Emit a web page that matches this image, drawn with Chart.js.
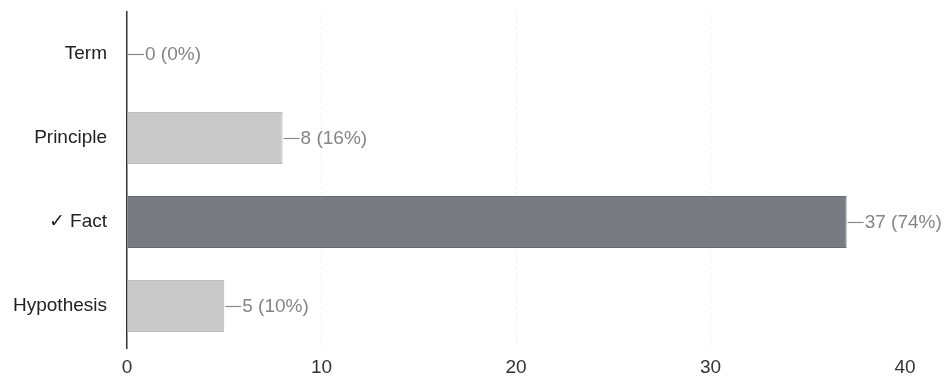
<!DOCTYPE html>
<html>
<head>
<meta charset="utf-8">
<script src="https://cdn.jsdelivr.net/npm/chart.js@4"></script>
<style>
  html, body { margin: 0; padding: 0; background: #fff; }
  #wrap { width: 947px; height: 379px; }
</style>
</head>
<body>
<div id="wrap"><canvas id="answerChart"></canvas></div>
<script>
// answer options and how many picked each
const categories = ['Term', 'Principle', '\u2713 Fact', 'Hypothesis'];
const counts = [0, 8, 37, 5];
const percents = [0, 16, 74, 10];
const tickValues = [0, 10, 20, 30, 40];

const barColors = ['#c9c9c9', '#c9c9c9', '#7a7a82', '#c9c9c9'];
const fontFamily = '"Liberation Sans", Arial, sans-serif';

// draws the "—8 (16%)" labels at the end of each bar
const valueLabels = {
    id: 'valueLabels',
    afterDatasetsDraw(chart) {
        const ctx = chart.ctx;
        const meta = chart.getDatasetMeta(0);
        ctx.save();
        ctx.font = '19px ' + fontFamily;
        ctx.fillStyle = '#858585';
        ctx.strokeStyle = '#8a8a8a';
        ctx.lineWidth = 1.2;
        ctx.textBaseline = 'middle';
        meta.data.forEach((bar, i) => {
            const x = bar.x;
            const y = Math.round(bar.y) + 0.5;
            ctx.beginPath();
            ctx.moveTo(x + 1, y);
            ctx.lineTo(x + 17, y);
            ctx.stroke();
            ctx.fillText(counts[i] + ' (' + percents[i] + '%)', x + 18, bar.y + 1);
        });
        ctx.restore();
    }
};

const noPad = (scale) => {
    scale.paddingTop = 0;
    scale.paddingBottom = 0;
    scale.paddingLeft = 0;
    scale.paddingRight = 0;
};

const ctx = document.getElementById('answerChart').getContext('2d');
const answerChart = new Chart(ctx, {
    type: 'bar',
    data: {
        labels: categories,
        datasets: [{
            data: counts,
            backgroundColor: barColors,
            borderColor: barColors.map(c => c === '#7a7a82' ? '#6a6a72' : '#bdbdbd'),
            borderWidth: 1,
            borderSkipped: 'left',
            barPercentage: 0.62,
            categoryPercentage: 1
        }]
    },
    plugins: [valueLabels],
    options: {
        indexAxis: 'y',
        responsive: true,
        maintainAspectRatio: false,
        animation: false,
        layout: { padding: { top: 12, right: 42, bottom: 0, left: 0 } },
        plugins: {
            legend: { display: false },
            tooltip: { enabled: false }
        },
        scales: {
            x: {
                min: 0,
                max: 40,
                afterBuildTicks: (scale) => {
                    scale.ticks = tickValues.map(v => ({ value: v }));
                },
                afterFit: (scale) => { scale.height = 31; noPad(scale); },
                grid: {
                    color: (c) => (c.tick && c.tick.value > 0 && c.tick.value < 40) ? '#ececec' : 'rgba(0,0,0,0)',
                    drawTicks: false
                },
                border: { display: false, dash: [2, 3] },
                ticks: {
                    color: '#333',
                    padding: 8,
                    font: { family: fontFamily, size: 19 }
                }
            },
            y: {
                afterFit: (scale) => { scale.width = 127; noPad(scale); },
                grid: { display: false, drawTicks: false },
                border: { display: true, color: '#333', width: 1.5 },
                ticks: {
                    color: '#222',
                    padding: 20,
                    font: { family: fontFamily, size: 19 }
                }
            }
        }
    }
});
</script>
</body>
</html>
